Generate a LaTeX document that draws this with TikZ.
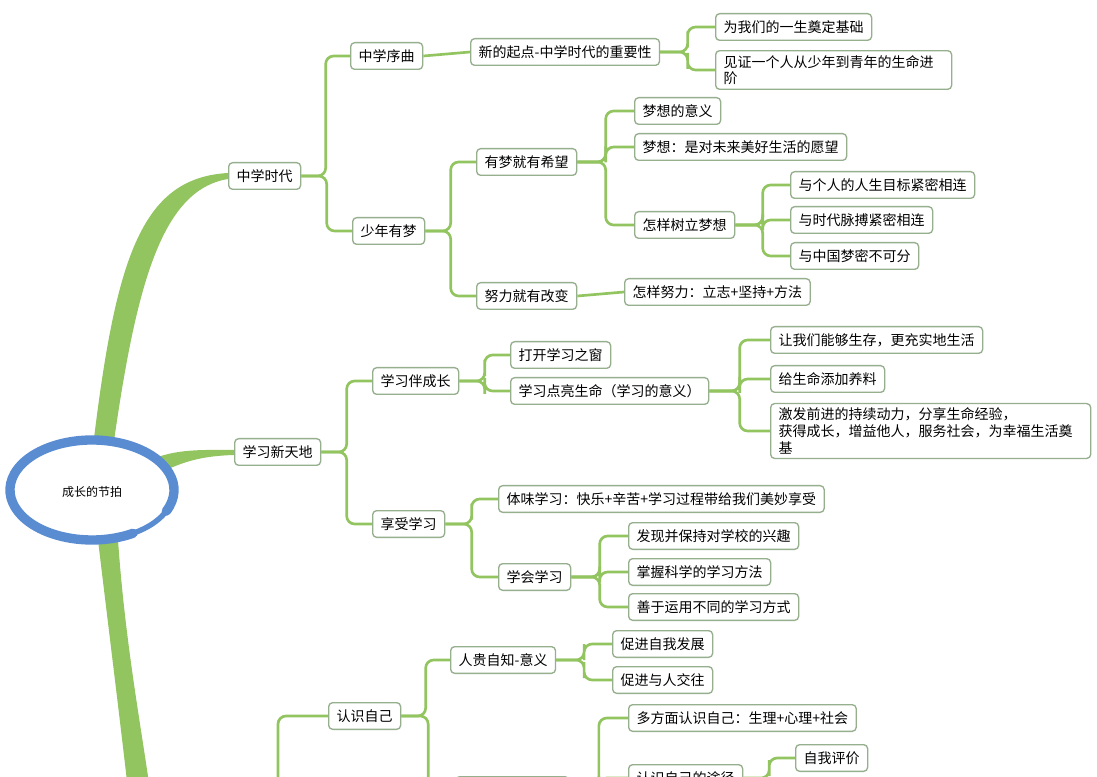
\documentclass[tikz,border=0pt]{standalone}
\usepackage{fontspec}
\newfontfamily\cjk{Noto Sans CJK SC}
\usetikzlibrary{calc}
\definecolor{lg}{RGB}{146,196,96}
\definecolor{bd}{RGB}{150,175,140}
\definecolor{bl}{RGB}{90,140,210}
\tikzset{
 bx/.style={draw=bd,line width=1pt,rounded corners=3pt,fill=white,anchor=west,inner xsep=6pt,minimum height=20pt,font=\cjk\fontsize{10.5}{12.5}\selectfont,align=left},
 cn/.style={draw=lg,line width=2pt,rounded corners=6pt}
}
\newcommand{\conn}[2]{\draw[cn] (#1.east) -| ($(#1.east)!0.5!(#2.west)$) |- (#2.west);}
\newcommand{\conns}[2]{\draw[cn] (#1.east) -- (#2.west);}
\begin{document}
\begin{tikzpicture}[x=0.75pt,y=-0.75pt]
\useasboundingbox (0,0) rectangle (1097,777);
\clip (0,0) rectangle (1097,777);
\fill[white] (0,0) rectangle (1097,777);
% main branches
\fill[lg] (92,455) .. controls (115,260) and (140,178) .. (228,173) -- (228,179) .. controls (160,190) and (135,290) .. (112,455) -- cycle;
\fill[lg] (140,465) .. controls (170,448) and (200,450) .. (234,450) -- (234,455) .. controls (200,456) and (180,462) .. (150,478) -- cycle;
\fill[lg] (98,540) .. controls (110,640) and (120,720) .. (128,790) -- (150,790) .. controls (140,720) and (125,640) .. (118,540) -- cycle;
% centre
\fill[white] (92,490) ellipse (80 and 48);
\draw[bl,line width=7pt,line cap=round] (92,490) ++(25:82 and 50) arc[start angle=25,end angle=-300,x radius=82,y radius=50];
\draw[bl,line width=4pt,line cap=round] (92,490) ++(-300:82 and 50) arc[start angle=-300,end angle=-350,x radius=82,y radius=50];
\node[font=\cjk\fontsize{9}{11}\selectfont] (root) at (92,492) {成长的节拍};
% nodes
\node[bx] (a) at (228,176) {中学时代};
\node[bx] (a1) at (350,56) {中学序曲};
\node[bx] (a11) at (470,52) {新的起点-中学时代的重要性};
\node[bx] (a111) at (715,27) {为我们的一生奠定基础};
\node[bx,text width=165pt] (a112) at (715,70) {见证一个人从少年到青年的生命进\\阶};
\node[bx] (a2) at (352,231) {少年有梦};
\node[bx] (a21) at (476,162) {有梦就有希望};
\node[bx] (a211) at (634,111) {梦想的意义};
\node[bx] (a212) at (634,147) {梦想：是对未来美好生活的愿望};
\node[bx] (a213) at (634,225) {怎样树立梦想};
\node[bx] (a2131) at (790,185) {与个人的人生目标紧密相连};
\node[bx] (a2132) at (790,220) {与时代脉搏紧密相连};
\node[bx] (a2133) at (790,256) {与中国梦密不可分};
\node[bx] (a22) at (476,296) {努力就有改变};
\node[bx] (a221) at (624,292) {怎样努力：立志+坚持+方法};
\node[bx] (b) at (234,452) {学习新天地};
\node[bx] (b1) at (372,381) {学习伴成长};
\node[bx] (b11) at (510,355) {打开学习之窗};
\node[bx] (b12) at (510,391) {学习点亮生命（学习的意义）};
\node[bx] (b121) at (770,340) {让我们能够生存，更充实地生活};
\node[bx] (b122) at (770,379) {给生命添加养料};
\node[bx,text width=228pt] (b123) at (770,431) {激发前进的持续动力，分享生命经验，\\获得成长，增益他人，服务社会，为幸福生活奠\\基};
\node[bx] (b2) at (372,524) {享受学习};
\node[bx] (b21) at (498,499) {体味学习：快乐+辛苦+学习过程带给我们美妙享受};
\node[bx] (b22) at (498,577) {学会学习};
\node[bx] (b221) at (628,536) {发现并保持对学校的兴趣};
\node[bx] (b222) at (628,572) {掌握科学的学习方法};
\node[bx] (b223) at (628,607) {善于运用不同的学习方式};
\coordinate (c0) at (278,820);
\node[bx] (c) at (328,716) {认识自己};
\node[bx] (c1) at (450,660) {人贵自知-意义};
\node[bx] (c11) at (612,644) {促进自我发展};
\node[bx] (c12) at (612,680) {促进与人交往};
\node[bx,minimum width=85pt] (c2) at (455,790) {\phantom{认识}};
\node[bx] (c21) at (628,718) {多方面认识自己：生理+心理+社会};
\node[bx] (c22) at (628,778) {认识自己的途径};
\node[bx] (c221) at (795,758) {自我评价};
% connectors
\conn{a}{a1}
\conn{a}{a2}
\conns{a1}{a11}
\conn{a11}{a111}
\conn{a11}{a112}
\conn{a2}{a21}
\conn{a2}{a22}
\conn{a21}{a211}
\conn{a21}{a212}
\conn{a21}{a213}
\conn{a213}{a2131}
\conn{a213}{a2132}
\conn{a213}{a2133}
\conns{a22}{a221}
\conn{b}{b1}
\conn{b}{b2}
\conn{b1}{b11}
\conn{b1}{b12}
\conn{b12}{b121}
\conn{b12}{b122}
\conn{b12}{b123}
\conn{b2}{b21}
\conn{b2}{b22}
\conn{b22}{b221}
\conn{b22}{b222}
\conn{b22}{b223}
\draw[cn] (c0) |- (c.west);
\conn{c}{c1}
\conn{c}{c2}
\conn{c1}{c11}
\conn{c1}{c12}
\conn{c2}{c21}
\conn{c2}{c22}
\conn{c22}{c221}
\end{tikzpicture}
\end{document}
